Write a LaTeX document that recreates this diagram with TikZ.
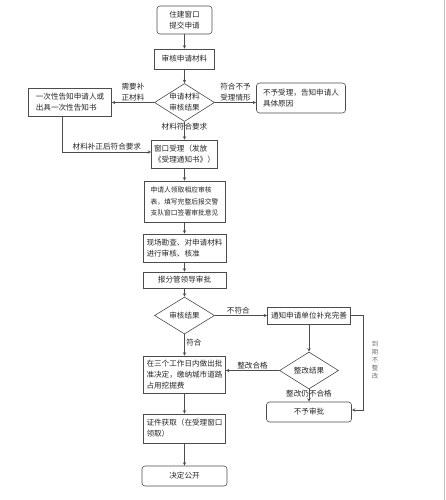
\documentclass[tikz,border=0pt]{standalone}
\usepackage{fontspec}
\setmainfont{Noto Sans CJK SC}
\usetikzlibrary{arrows, shapes, positioning}

\begin{document}
\begin{tikzpicture}[
            ->,
            > = stealth,
            x = 1pt, y = 1pt,
            node distance = 40pt,
            on grid,
            semithick,
            color = black!70,
            every node/.style = {font=\fontsize{7.6}{11}\selectfont, text=black!85},
            box/.style = {draw=black!70, rectangle, align=left, inner xsep=2.5pt, inner ysep=0pt, minimum height=20pt},
            roundbox/.style = {box, rounded corners=3pt},
            decision/.style = {draw=black!70, diamond, aspect=1.55, align=center, inner sep=0pt, minimum width=60pt, minimum height=38pt},
            tag/.style = {align=center, inner sep=1.5pt}
        ]
        \useasboundingbox (0,0) rectangle (445,-500);

        \node[roundbox, align=center, minimum width=55pt, minimum height=28pt] (start) at (184.5,-20) {住建窗口\\提交申请};
        \node[box, below=39pt of start, minimum width=60pt] (check) {审核申请材料};
        \node[decision, below=43.5pt of check] (result1) {申请材料\\审核结果};
        \node[box, left=114.5pt of result1, minimum width=83pt, minimum height=28pt] (notice) {一次性告知申请人或\\出具一次性告知书};
        \node[roundbox, above right=4.5pt and 116.5pt of result1, minimum width=89pt, minimum height=30pt] (refuse) {不予受理，告知申请人\\具体原因};
        \node[box, below=51.5pt of result1, minimum width=66pt, minimum height=28pt] (accept) {窗口受理（发放\\《受理通知书》）};
        \node[box, below=47.5pt of accept, minimum width=81pt, minimum height=41pt, font=\fontsize{6.8}{11.7}\selectfont] (form) {申请人领取相应审核\\表，填写完整后报交警\\支队窗口签署审批意见};
        \node[box, below=46.5pt of form, minimum width=83pt, minimum height=28pt] (survey) {现场勘查、对申请材料\\进行审核、核准};
        \node[box, below=32pt of survey, minimum width=83pt, minimum height=16pt] (leader) {报分管领导审批};
        \node[decision, below=35.5pt of leader, minimum height=37pt] (result2) {审核结果};
        \node[box, right=124.5pt of result2, minimum width=83pt, minimum height=17pt] (supply) {通知申请单位补充完善};
        \node[box, below=59pt of result2, minimum width=82pt, minimum height=37pt] (approve) {在三个工作日内做出批\\准决定，缴纳城市道路\\占用挖掘费};
        \node[decision, below=55pt of supply, minimum width=59pt, minimum height=37pt] (result3) {整改结果};
        \node[roundbox, below=41.5pt of result3, minimum width=85pt, minimum height=20pt] (deny) {不予审批};
        \node[box, below=54pt of approve, minimum width=82pt, minimum height=29pt] (permit) {证件获取（在受理窗口\\领取）};
        \node[roundbox, below=47.5pt of permit, minimum width=85pt, minimum height=20pt] (publish) {决定公开};
        \coordinate[right=12.5pt of supply.east] (turn);
        \node[align=center, text=black!55, inner sep=0pt, font=\fontsize{6.4}{8}\selectfont] (overdue) at (375,-360) {到\\期\\不\\整\\改};

        \path (start) edge (check);
        \path (check) edge (result1);
        \path (result1) edge node[tag, above] {需要补\\正材料} (notice);
        \draw (result1.east) -- (result1.east -| refuse.west) node[tag, midway, above] {符合不予\\受理情形};
        \path (result1) edge node[tag, pos=0.28] {材料符合要求} (accept);
        \draw ([xshift=-7.5pt]notice.south) |- ([yshift=2pt]accept.west) node[tag, pos=0.75, above] {材料补正后符合要求};
        \path (accept) edge (form);
        \path (form) edge (survey);
        \path (survey) edge (leader);
        \path (leader) edge (result2);
        \path (result2) edge node[tag, above, pos=0.45] {不符合} (supply);
        \path (result2) edge node[tag, right, pos=0.41] {符合} (approve);
        \path (supply) edge (result3);
        \draw (result3.west) -- (result3.west -| approve.east) node[tag, midway, above] {整改合格};
        \path (result3) edge node[tag, pos=0.38] {整改仍不合格} (deny);
        \draw (supply.east) -- (turn) |- ([yshift=2pt]deny.east);
        \path (approve) edge (permit);
        \path (permit) edge (publish);

        % page edge
        \draw[-, black!25] (444,0) -- (444,-500);
    \end{tikzpicture}
\end{document}
